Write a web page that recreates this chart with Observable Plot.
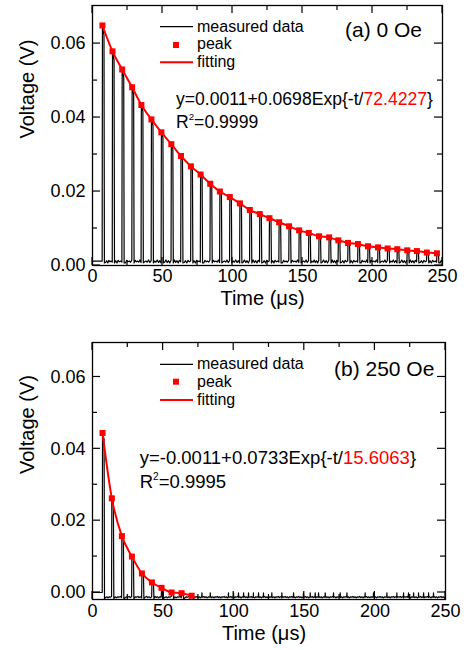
<!DOCTYPE html>
<html><head><meta charset="utf-8">
<script src="https://cdn.jsdelivr.net/npm/d3@7"></script>
<script src="https://cdn.jsdelivr.net/npm/@observablehq/plot@0.6"></script>
<style>body{margin:0;background:#fff;} #chart{width:466px;}</style>
</head><body><div id="chart"></div>
<script>
const FONT = "Liberation Sans, Arial, Helvetica, sans-serif";
const xTicks = [0, 50, 100, 150, 200, 250];
const xMinorTicks = [25, 75, 125, 175, 225];
const yTicks = [0, 0.02, 0.04, 0.06];
const yMinorTicks = [0.01, 0.03, 0.05];

// Panel (a) 0 Oe
const peakTimesA = [7.1, 14.3, 21.2, 28.3, 34.9, 42.1, 49.2, 56.3, 63.2, 70.3, 77.2, 84.1, 91.0, 98.1, 105.3, 112.4, 119.5, 126.4, 133.3, 140.4, 147.6, 154.5, 161.8, 169.0, 175.6, 182.5, 189.6, 196.8, 203.9, 210.8, 217.7, 224.8, 231.7, 238.8, 246.0];
const peakValuesA = [0.0649, 0.0579, 0.0530, 0.0482, 0.0434, 0.0395, 0.0360, 0.0328, 0.0296, 0.0268, 0.0246, 0.0221, 0.0200, 0.0185, 0.0168, 0.0150, 0.0139, 0.0128, 0.0117, 0.0106, 0.0095, 0.0088, 0.0079, 0.0076, 0.0068, 0.0061, 0.0058, 0.0052, 0.0049, 0.0046, 0.0044, 0.0041, 0.0039, 0.0035, 0.0033];
const baselineA = 0.0011;
const startLevelA = 0.0012;
const noiseA = [0.0004, -0.0003, 0.0002, -0.0004, 0.0003, -0.0001, 0.0001, -0.0002];

// Panel (b) 250 Oe
const peakTimesB = [7.1, 13.7, 20.8, 27.9, 35.0, 42.1, 48.9, 56.0, 63.1, 70.2];
const peakValuesB = [0.0444, 0.0262, 0.0157, 0.0100, 0.0053, 0.0028, 0.0013, 0.0000, -0.0002, -0.0009];
const baselineB = -0.0013;
const startLevelB = 0.0;
const noiseB = [0.0002, -0.0001, 0.0001, -0.0002, 0.0001, 0.0000];
const spikeTimesB = [77.5, 83.4, 96.3, 99.9, 103.4, 107.0, 110.5, 114.0, 117.6, 121.1, 127.0, 134.1, 142.4, 149.4, 154.2, 157.7, 160.1, 164.8, 170.7, 175.4, 180.2, 193.1, 199.0, 208.5, 215.6, 220.3, 223.8, 227.4, 230.9, 234.5, 238.0, 241.5];
const spikeHeightB = 0.0012;

function buildTrace(times, peaks, base, noise, startLevel, spikes, spikeH) {
  const pts = [{t: 0, v: startLevel}, {t: times[0] - 0.2, v: startLevel}];
  times.forEach((t, i) => {
    pts.push({t, v: peaks[i]});
    pts.push({t: t + 1.1, v: peaks[i] * 0.96});
    pts.push({t: t + 1.4, v: base - 0.0004});
    const tNext = i + 1 < times.length ? times[i + 1] - 0.2 : 250;
    const n = Math.max(2, Math.floor((tNext - t - 1.4) / 0.8));
    for (let k = 1; k <= n; k++) {
      pts.push({t: t + 1.4 + (tNext - t - 1.4) * k / n, v: base + noise[(i + k) % noise.length]});
    }
  });
  (spikes || []).forEach(s => {
    pts.push({t: s - 0.15, v: base}, {t: s, v: base + spikeH}, {t: s + 0.15, v: base});
  });
  pts.sort((a, b) => a.t - b.t);
  return pts;
}

// inward ticks on all four sides, placed through Plot's scales
function innerTicks() {
  return (index, scales, values, dims) => {
    const {x, y} = scales;
    const L = dims.marginLeft, R = dims.width - dims.marginRight;
    const T = dims.marginTop, B = dims.height - dims.marginBottom;
    const g = d3.create("svg:g").attr("stroke", "black").attr("stroke-width", 1.2);
    const tx = (v, len) => {
      const px = x(v);
      g.append("line").attr("x1", px).attr("x2", px).attr("y1", B).attr("y2", B - len);
      g.append("line").attr("x1", px).attr("x2", px).attr("y1", T).attr("y2", T + len);
    };
    const ty = (v, len) => {
      const py = y(v);
      g.append("line").attr("y1", py).attr("y2", py).attr("x1", L).attr("x2", L + len);
      g.append("line").attr("y1", py).attr("y2", py).attr("x1", R).attr("x2", R - len);
    };
    xTicks.forEach(v => tx(v, 8));
    xMinorTicks.forEach(v => tx(v, 5));
    yTicks.forEach(v => ty(v, 8));
    yMinorTicks.forEach(v => ty(v, 5));
    return g.node();
  };
}

function annotations(c) {
  return (index, scales, values, dims) => {
    const ox = dims.marginLeft, oy = dims.marginTop;
    const g = d3.create("svg:g").attr("font-family", FONT).attr("fill", "black").attr("text-anchor", "start");
    g.append("line").attr("x1", ox + 68).attr("x2", ox + 101).attr("y1", oy + c.lg[0]).attr("y2", oy + c.lg[0])
      .attr("stroke", "black").attr("stroke-width", 1.2);
    g.append("rect").attr("x", ox + 81).attr("y", oy + c.lg[1] - 3).attr("width", 6).attr("height", 6).attr("fill", "#ff0000");
    g.append("line").attr("x1", ox + 68).attr("x2", ox + 101).attr("y1", oy + c.lg[2]).attr("y2", oy + c.lg[2])
      .attr("stroke", "#ff0000").attr("stroke-width", 2);
    const lt = ["measured data", "peak", "fitting"];
    lt.forEach((s, i) => g.append("text").attr("x", ox + 105).attr("y", oy + c.lt[i]).attr("font-size", 16).text(s));
    g.append("text").attr("x", ox + c.tag[0]).attr("y", oy + c.tag[1]).attr("font-size", 21).text(c.tagText);
    const eq = g.append("text").attr("x", ox + c.eq[0]).attr("y", oy + c.eq[1]).attr("font-size", c.eqSize);
    eq.append("tspan").text(c.eqText);
    eq.append("tspan").attr("fill", "#ff0000").text(c.tau);
    eq.append("tspan").text("}");
    const r2 = g.append("text").attr("x", ox + c.eq[0]).attr("y", oy + c.r2y).attr("font-size", c.eqSize);
    r2.append("tspan").text("R");
    r2.append("tspan").attr("font-size", c.eqSize * 0.55).attr("dy", -8).text("2");
    r2.append("tspan").attr("dy", 8).text("=" + c.r2);
    return g.node();
  };
}

function panel(c) {
  const trace = buildTrace(c.times, c.peaks, c.base, c.noise, c.start, c.spikes, c.spikeH);
  const peaks = c.times.map((t, i) => ({t, v: c.peaks[i]}));
  return Plot.plot({
    width: 466, height: 325,
    marginLeft: 92, marginRight: c.mr, marginTop: c.mt, marginBottom: c.mb,
    x: {domain: [0, 250], label: null},
    y: {domain: c.yDomain, label: null},
    style: {fontFamily: FONT, background: "white", color: "black", overflow: "visible"},
    marks: [
      Plot.line(trace, {x: "t", y: "v", stroke: "black", strokeWidth: 1.2}),
      Plot.line(peaks, {x: "t", y: "v", stroke: "#ff0000", strokeWidth: 2, curve: "monotone-x"}),
      Plot.dot(peaks, {x: "t", y: "v", symbol: "square", fill: "#ff0000", r: 3.4}),
      Plot.frame({stroke: "black", strokeWidth: 1.3}),
      Plot.axisX(xTicks, {anchor: "bottom", tickSize: 0, tickPadding: c.xPad, fontSize: 18, label: null}),
      Plot.axisY(yTicks, {anchor: "left", tickSize: 0, tickPadding: 7, tickFormat: d3.format(".2f"), fontSize: 18, label: null}),
      innerTicks(),
      Plot.text(["Voltage (V)"], {text: d => d, frameAnchor: "left", rotate: -90, dx: -65, dy: 3, fontSize: 20}),
      Plot.text(["Time (μs)"], {text: d => d, frameAnchor: "bottom", dy: c.tDy, dx: -5, fontSize: 20}),
      annotations(c)
    ]
  });
}

const chart = document.getElementById("chart");
chart.append(panel({
  times: peakTimesA, peaks: peakValuesA, base: baselineA, noise: noiseA, start: startLevelA,
  mr: 24, mt: 5, mb: 60, xPad: 4, tDy: 39, yDomain: [0, 0.0703],
  lg: [21.7, 40, 57.3], lt: [27, 44.3, 62.3],
  tag: [253, 31.7], tagText: "(a) 0 Oe",
  eq: [84, 100], eqSize: 17.6, eqText: "y=0.0011+0.0698Exp{-t/", tau: "72.4227",
  r2y: 122.7, r2: "0.9999"
}));
chart.append(panel({
  times: peakTimesB, peaks: peakValuesB, base: baselineB, noise: noiseB, start: startLevelB,
  spikes: spikeTimesB, spikeH: spikeHeightB,
  mr: 21, mt: 17, mb: 51, xPad: 5, tDy: 40, yDomain: [-0.00195, 0.0696],
  lg: [22.3, 39.7, 58], lt: [27.3, 44.7, 63],
  tag: [242, 33.7], tagText: "(b) 250 Oe",
  eq: [47.7, 122.3], eqSize: 18.5, eqText: "y=-0.0011+0.0733Exp{-t/", tau: "15.6063",
  r2y: 146.3, r2: "0.9995"
}));
</script>
</body></html>
